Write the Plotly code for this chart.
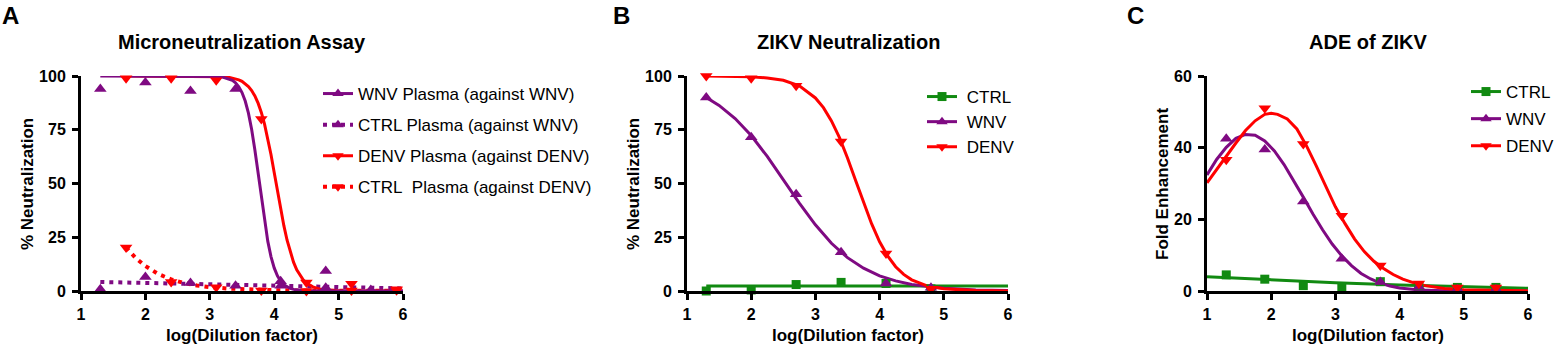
import plotly.graph_objects as go

W, H = 1555, 346
PURPLE = "#7f0a82"
RED = "#ff0000"
GREEN = "#118a11"
FONT = "Liberation Sans, Arial, sans-serif"

# ---------------- Panel A data ----------------
xA_wnv = [1.3, 2.0, 2.7, 3.4, 4.1, 4.8, 5.5]
yA_wnv = [94, 97, 93, 94, 4.5, 9.3, 0]
yA_ctrl_wnv = [0.8, 6.5, 3.7, 2.4, 2.5, 1.5, 0.5]
xA_denv = [1.7, 2.4, 3.1, 3.8, 4.5, 5.2, 5.9]
yA_denv = [99, 99, 98, 80, 3.9, 3.4, 0.8]
yA_ctrl_denv = [20.2, 4.2, 1.8, 0.2, 0.0, 0.2, 0.3]

cxA_wnv = [1.3, 2.0, 2.5, 3.0, 3.1, 3.2, 3.3, 3.35, 3.4, 3.45, 3.5, 3.55, 3.6, 3.65, 3.7, 3.75,
           3.8, 3.85, 3.9, 3.95, 4.0, 4.05, 4.1, 4.15, 4.2, 4.25, 4.3, 4.4, 4.5, 4.7, 5.0, 6.0]
cyA_wnv = [100, 100, 100, 99.92, 99.79, 99.48, 98.70, 97.95, 96.80, 95.01, 92.32, 88.35, 82.72,
           75.13, 65.58, 54.59, 43.14, 32.37, 23.20, 16.01, 10.73, 7.05, 4.57, 2.93, 1.87, 1.19,
           0.75, 0.30, 0.12, 0.02, 0, 0]
cxA_denv = [1.7, 2.5, 3.0, 3.2, 3.3, 3.4, 3.45, 3.5, 3.55, 3.6, 3.65, 3.7, 3.75, 3.8, 3.85, 3.9,
            3.95, 4.0, 4.05, 4.1, 4.15, 4.2, 4.25, 4.3, 4.35, 4.4, 4.45, 4.5, 4.55, 4.6, 4.7,
            4.8, 5.0, 5.3, 6.0]
cyA_denv = [100, 100, 99.92, 99.68, 99.36, 98.73, 98.21, 97.49, 96.50, 95.12, 93.25, 90.72,
            87.37, 83.04, 77.62, 71.05, 63.47, 55.16, 46.55, 38.14, 30.39, 23.61, 17.95, 13.41,
            9.88, 7.20, 5.21, 3.74, 2.68, 1.91, 0.97, 0.49, 0.12, 0.02, 0]
cxA_ctrl_wnv = [1.3, 2.0, 3.0, 4.0, 5.0, 6.0]
cyA_ctrl_wnv = [4.2, 3.8, 2.9, 2.3, 1.7, 1.2]
cxA_ctrl_denv = [1.7, 1.85, 2.0, 2.2, 2.4, 2.6, 2.8, 3.0, 3.3, 3.6, 4.0, 4.5, 5.0, 5.9]
cyA_ctrl_denv = [20.2, 15.3, 11.6, 7.9, 5.4, 3.7, 2.6, 1.8, 1.1, 0.7, 0.4, 0.2, 0.1, 0.05]

# ---------------- Panel B data ----------------
xB = [1.3, 2.0, 2.7, 3.4, 4.1, 4.8]
yB_ctrl = [0.0, 0.5, 3.0, 4.0, 3.5, 1.0]
yB_wnv = [90, 71.5, 45, 18, 3.5, 1.5]
yB_denv = [100, 99, 95.5, 69.5, 17.5, 1.0]
cxB_ctrl = [1.3, 6.0]
cyB_ctrl = [2.3, 2.3]
cxB_wnv = [1.3, 1.5, 1.75, 2.0, 2.25, 2.5, 2.75, 3.0, 3.25, 3.5, 3.75, 4.0, 4.25, 4.5, 4.75,
           5.0, 5.5, 6.0]
cyB_wnv = [90.0, 86.3, 80.2, 72.3, 62.6, 51.8, 40.9, 30.8, 22.2, 15.5, 10.6, 7.0, 4.7, 3.0, 2.0,
           1.3, 0.5, 0.2]
cxB_denv = [1.3, 1.5, 1.75, 2.0, 2.25, 2.5, 2.75, 3.0, 3.125, 3.25, 3.375, 3.5, 3.625, 3.75,
            3.875, 4.0, 4.125, 4.25, 4.375, 4.5, 4.75, 5.0, 5.5, 6.0]
cyB_denv = [99.96, 99.93, 99.8, 99.6, 99.1, 98.0, 95.4, 89.8, 85.3, 79.1, 71.3, 61.9, 51.5, 41.0,
            31.3, 22.9, 16.3, 11.3, 7.7, 5.2, 2.3, 1.0, 0.2, 0.05]

# ---------------- Panel C data ----------------
xC = [1.3, 1.9, 2.5, 3.1, 3.7, 4.3, 4.9, 5.5]
yC_ctrl = [4.5, 3.3, 1.5, 1.2, 2.6, 1.5, 1.0, 1.0]
yC_wnv = [42.5, 39.5, 25, 9, 2.5, 1.2, 0.5, 0.5]
yC_denv = [36.6, 51, 41, 21, 7.1, 2.1, 1.0, 1.0]
cxC_ctrl = [1, 2, 3, 4, 5, 6]
cyC_ctrl = [4.0, 3.1, 2.3, 1.7, 1.15, 0.75]
cxC_wnv = [1, 1.15, 1.3, 1.45, 1.6, 1.75, 1.9, 2.05, 2.2, 2.35, 2.5, 2.65, 2.8, 2.95, 3.1, 3.25,
           3.4, 3.55, 3.7, 3.85, 4.0, 4.3, 4.7, 5.2, 6.0]
cyC_wnv = [32.4, 36.7, 40.1, 42.6, 43.7, 43.5, 41.9, 39.1, 35.3, 30.9, 26.2, 21.5, 17.1, 13.1,
           9.8, 7.1, 4.9, 3.35, 2.2, 1.4, 0.86, 0.29, 0.06, 0.0, 0.0]
cxC_denv = [1, 1.15, 1.3, 1.45, 1.6, 1.75, 1.9, 2.0, 2.1, 2.25, 2.4, 2.55, 2.7, 2.85, 3.0, 3.15,
            3.3, 3.45, 3.6, 3.75, 3.9, 4.05, 4.2, 4.4, 4.7, 5.0, 5.5, 6.0]
cyC_denv = [30.2, 34, 37.6, 41.3, 44.8, 47.5, 49.3, 49.6, 49.3, 48, 45.2, 40.5, 35, 29.2, 23.5,
            18.8, 14.5, 11.0, 8.3, 6.3, 4.6, 3.3, 2.4, 1.5, 0.7, 0.35, 0.1, 0.03]

xticks = [1, 2, 3, 4, 5, 6]
yticks_pct = [0, 25, 50, 75, 100]
yticks_fold = [0, 20, 40, 60]

fig = go.Figure()


def curve(x, y, color, xa, ya, dash="solid", width=3):
    fig.add_trace(go.Scatter(x=x, y=y, mode="lines", line=dict(color=color, width=width, dash=dash),
                             xaxis=xa, yaxis=ya, showlegend=False, cliponaxis=False,
                             hoverinfo="skip"))


def points(x, y, color, symbol, size, xa, ya):
    fig.add_trace(go.Scatter(x=x, y=y, mode="markers",
                             marker=dict(color=color, symbol=symbol, size=size, line=dict(width=0)),
                             xaxis=xa, yaxis=ya, showlegend=False, cliponaxis=False))


def legend_entry(name, color, symbol, size, legend, rank, dash="solid", width=3):
    fig.add_trace(go.Scatter(x=[None], y=[None], mode="lines+markers", name=name,
                             line=dict(color=color, width=width, dash=dash),
                             marker=dict(color=color, symbol=symbol, size=size, line=dict(width=0)),
                             legend=legend, legendgroup=legend + str(rank), legendrank=rank,
                             showlegend=True))


DOT = "4px,5px"
# Panel A
curve(cxA_ctrl_denv, cyA_ctrl_denv, RED, "x", "y", DOT, 4)
curve(cxA_ctrl_wnv, cyA_ctrl_wnv, PURPLE, "x", "y", DOT, 4)
curve(cxA_denv, cyA_denv, RED, "x", "y")
curve(cxA_wnv, cyA_wnv, PURPLE, "x", "y")
points(xA_wnv, yA_ctrl_wnv, PURPLE, "triangle-up", 11, "x", "y")
points(xA_denv, yA_ctrl_denv, RED, "triangle-down", 11, "x", "y")
points(xA_wnv, yA_wnv, PURPLE, "triangle-up", 11, "x", "y")
points(xA_denv, yA_denv, RED, "triangle-down", 11, "x", "y")
legend_entry("WNV Plasma (against WNV)", PURPLE, "triangle-up", 10, "legend", 1)
legend_entry("CTRL Plasma (against WNV)", PURPLE, "triangle-up", 10, "legend", 2, DOT, 4)
legend_entry("DENV Plasma (against DENV)", RED, "triangle-down", 10, "legend", 3)
legend_entry("CTRL\u00a0\u00a0Plasma (against DENV)", RED, "triangle-down", 10, "legend", 4, DOT, 4)

# Panel B
curve(cxB_ctrl, cyB_ctrl, GREEN, "x2", "y2")
curve(cxB_wnv, cyB_wnv, PURPLE, "x2", "y2")
curve(cxB_denv, cyB_denv, RED, "x2", "y2")
points(xB, yB_ctrl, GREEN, "square", 9, "x2", "y2")
points(xB, yB_wnv, PURPLE, "triangle-up", 11, "x2", "y2")
points(xB, yB_denv, RED, "triangle-down", 11, "x2", "y2")
legend_entry("\u00a0CTRL", GREEN, "square", 9, "legend2", 1)
legend_entry("\u00a0WNV", PURPLE, "triangle-up", 10, "legend2", 2)
legend_entry("\u00a0DENV", RED, "triangle-down", 10, "legend2", 3)

# Panel C
curve(cxC_ctrl, cyC_ctrl, GREEN, "x3", "y3")
curve(cxC_wnv, cyC_wnv, PURPLE, "x3", "y3")
curve(cxC_denv, cyC_denv, RED, "x3", "y3")
points(xC, yC_ctrl, GREEN, "square", 9, "x3", "y3")
points(xC, yC_wnv, PURPLE, "triangle-up", 11, "x3", "y3")
points(xC, yC_denv, RED, "triangle-down", 11, "x3", "y3")
legend_entry("CTRL", GREEN, "square", 9, "legend3", 1)
legend_entry("WNV", PURPLE, "triangle-up", 10, "legend3", 2)
legend_entry("DENV", RED, "triangle-down", 10, "legend3", 3)

TICKFONT = dict(family=FONT, size=16, color="black", weight="bold")


def xaxis_cfg(left, right, anchor):
    return dict(domain=[left / W, right / W], range=[1, 6], anchor=anchor,
                tickvals=xticks, showline=True, linewidth=3, linecolor="black",
                ticks="outside", ticklen=6, tickwidth=3, tickcolor="black",
                ticklabelstandoff=1, automargin=False,
                showgrid=False, zeroline=False, fixedrange=True, tickfont=TICKFONT)


def yaxis_cfg(rng, ticks, anchor):
    return dict(domain=[1 - 291 / H, 1 - 76 / H], range=rng, anchor=anchor,
                tickvals=ticks, showline=True, linewidth=3, linecolor="black",
                ticks="outside", ticklen=6, tickwidth=3, tickcolor="black",
                ticklabelstandoff=3, automargin=False,
                showgrid=False, zeroline=False, fixedrange=True, tickfont=TICKFONT)


def legend_cfg(left_px, top_px, gap):
    return dict(x=left_px / W, y=1 - top_px / H, xanchor="left", yanchor="top",
                bgcolor="rgba(0,0,0,0)", borderwidth=0, itemwidth=30,
                traceorder="grouped", tracegroupgap=gap,
                font=dict(family=FONT, size=17, color="black"))


annotations = []


def text(s, xp, yp, size, bold=True, angle=0):
    annotations.append(dict(text=s, x=xp / W, y=1 - yp / H, xref="paper", yref="paper",
                            showarrow=False, xanchor="center", yanchor="middle", textangle=angle,
                            font=dict(family=FONT, size=size, color="black",
                                      weight="bold" if bold else "normal")))


text("A", 10, 16, 24)
text("B", 621, 16, 24)
text("C", 1135, 16, 24)
text("Microneutralization Assay", 242, 42, 20)
text("ZIKV Neutralization", 848, 42, 20)
text("ADE of ZIKV", 1368, 42, 20)
for cx in (242, 848, 1368):
    text("log(Dilution factor)", cx, 335, 17)
text("% Neutralization", 28, 184, 17, angle=-90)
text("% Neutralization", 634, 184, 17, angle=-90)
text("Fold Enhancement", 1163, 184, 17, angle=-90)

fig.update_layout(
    width=W, height=H, margin=dict(l=0, r=0, t=0, b=0, pad=0, autoexpand=False),
    paper_bgcolor="white", plot_bgcolor="white",
    font=dict(family=FONT, color="black"),
    xaxis=xaxis_cfg(81, 403, "y"), yaxis=yaxis_cfg([0, 100], yticks_pct, "x"),
    xaxis2=xaxis_cfg(687, 1008, "y2"), yaxis2=yaxis_cfg([0, 100], yticks_pct, "x2"),
    xaxis3=xaxis_cfg(1207, 1528, "y3"), yaxis3=yaxis_cfg([0, 60], yticks_fold, "x3"),
    legend=legend_cfg(318, 76, 6),
    legend2=legend_cfg(922, 79, 0),
    legend3=legend_cfg(1466, 74, 2),
    annotations=annotations,
    showlegend=True,
)

PAGE_FIX = """
var gd = document.getElementById('{plot_id}');
var st = function(el, css) { for (var k in css) { el.style[k] = css[k]; } };
st(document.documentElement, {margin: '0', padding: '0', overflow: 'hidden'});
st(document.body, {margin: '0', padding: '0', overflow: 'hidden'});
st(gd, {position: 'fixed', left: '0px', top: '0px', margin: '0'});
"""

fig.write_html("out.html", config={"displayModeBar": False}, post_script=PAGE_FIX)
